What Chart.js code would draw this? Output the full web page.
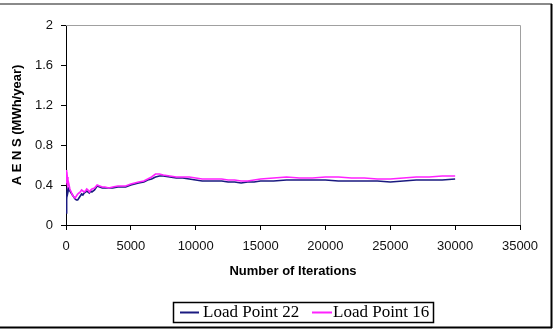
<!DOCTYPE html>
<html>
<head>
<meta charset="utf-8">
<script src="https://cdn.jsdelivr.net/npm/chart.js@4/dist/chart.umd.min.js"></script>
<style>
html,body{margin:0;padding:0;background:#fff;}
canvas{display:block;}
</style>
</head>
<body>
<canvas id="c" width="555" height="330"></canvas>
<script>
const iterations = [0,50,100,150,200,300,400,500,600,700,800,900,1000,1100,1200,1300,1400,1500,1600,1700,1800,1900,2000,2200,2400,2600,2800,3000,3300,3600,4000,4300,4600,5000,5300,5600,6000,6300,6600,6900,7200,7500,8000,8500,9000,9500,10000,10500,11000,11500,12000,12500,13000,13500,14000,14500,15000,16000,17000,18000,19000,20000,21000,22000,23000,24000,25000,26000,27000,28000,29000,30000];
const loadPoint22 = [0.12,0.25,0.38,0.33,0.36,0.34,0.32,0.30,0.28,0.26,0.25,0.25,0.27,0.29,0.31,0.30,0.32,0.33,0.34,0.33,0.32,0.34,0.33,0.35,0.39,0.38,0.37,0.37,0.37,0.37,0.38,0.38,0.38,0.40,0.41,0.42,0.43,0.45,0.46,0.48,0.49,0.49,0.48,0.47,0.47,0.46,0.45,0.44,0.44,0.44,0.44,0.43,0.43,0.42,0.43,0.43,0.44,0.44,0.45,0.45,0.45,0.45,0.44,0.44,0.44,0.44,0.43,0.44,0.45,0.45,0.45,0.46];
const loadPoint16 = [0.55,0.45,0.48,0.40,0.42,0.36,0.33,0.30,0.28,0.27,0.29,0.31,0.32,0.33,0.35,0.34,0.33,0.34,0.36,0.35,0.33,0.35,0.36,0.37,0.40,0.39,0.38,0.38,0.37,0.38,0.39,0.39,0.39,0.41,0.42,0.43,0.44,0.46,0.48,0.51,0.51,0.50,0.49,0.48,0.48,0.48,0.47,0.46,0.46,0.46,0.46,0.45,0.45,0.44,0.44,0.45,0.46,0.47,0.48,0.47,0.47,0.48,0.48,0.47,0.47,0.46,0.46,0.47,0.48,0.48,0.49,0.49];
const seriesNames = ['Load Point 22','Load Point 16'];
const seriesColors = ['#1a1a80','#ff22ff'];
const xTicks = [0,5000,10000,15000,20000,25000,30000,35000];
const yTicks = [0,0.4,0.8,1.2,1.6,2];

const toXY = (ys) => iterations.map((x,i)=>({x:x,y:ys[i]}));

const framePlugin = {
  id:'frame',
  afterDraw(chart){
    const ctx = chart.ctx, a = chart.chartArea;
    ctx.save();
    ctx.strokeStyle = '#a0a0a0'; ctx.lineWidth = 1;
    ctx.beginPath();
    ctx.moveTo(a.left, a.top+0.5); ctx.lineTo(a.right+0.5, a.top+0.5); ctx.lineTo(a.right+0.5, a.bottom);
    ctx.stroke();
    ctx.strokeStyle = '#8a8a8a'; ctx.lineWidth = 2;
    ctx.beginPath(); ctx.moveTo(0,4); ctx.lineTo(552,4); ctx.stroke();
    ctx.strokeStyle = '#000'; ctx.lineWidth = 2;
    ctx.beginPath(); ctx.moveTo(551.5,4); ctx.lineTo(551.5,328); ctx.stroke();
    ctx.beginPath(); ctx.moveTo(0,327.5); ctx.lineTo(552,327.5); ctx.stroke();
    const lx=173, ly=302, lw=260, lh=20;
    ctx.fillStyle='#fff'; ctx.fillRect(lx,ly,lw,lh);
    ctx.strokeStyle='#000'; ctx.lineWidth=1.5;
    ctx.strokeRect(lx+0.5,ly+0.5,lw,lh);
    ctx.font = '17px "Liberation Serif", "Times New Roman", serif';
    ctx.textBaseline='middle'; ctx.fillStyle='#000';
    const items = [{x0:180,x1:199,tx:203},{x0:312,x1:332,tx:333}];
    items.forEach((it,i)=>{
      ctx.strokeStyle = seriesColors[i]; ctx.lineWidth=2;
      ctx.beginPath(); ctx.moveTo(it.x0, ly+lh/2+0.5); ctx.lineTo(it.x1, ly+lh/2+0.5); ctx.stroke();
      ctx.fillText(seriesNames[i], it.tx, ly+lh/2+1);
    });
    ctx.restore();
  }
};

const tickFont = {family:'"Liberation Sans", Arial, sans-serif', size:13};
const titleFont = {family:'"Liberation Sans", Arial, sans-serif', size:13, weight:'bold'};

new Chart(document.getElementById('c'), {
  type:'line',
  data:{
    datasets:[
      {label:seriesNames[0], data:toXY(loadPoint22), borderColor:seriesColors[0], borderWidth:1.6, pointRadius:0, tension:0, fill:false, order:1},
      {label:seriesNames[1], data:toXY(loadPoint16), borderColor:seriesColors[1], borderWidth:1.6, pointRadius:0, tension:0, fill:false, order:0}
    ]
  },
  options:{
    responsive:false, animation:false, devicePixelRatio:1,
    layout:{padding:{top:25,left:10,right:35,bottom:51}},
    plugins:{legend:{display:false}, tooltip:{enabled:false}},
    scales:{
      x:{
        type:'linear', min:0, max:35000,
        afterBuildTicks(s){ s.ticks = xTicks.map(v=>({value:v})); },
        afterFit(s){ s.height = 54; },
        grid:{drawOnChartArea:false, drawTicks:true, tickLength:5, color:'#000'},
        border:{display:true, color:'#000', width:1},
        ticks:{color:'#111', font:tickFont, padding:9, maxRotation:0, autoSkip:false, callback:(v)=>String(v)},
        title:{display:true, text:'Number of Iterations', color:'#000', font:titleFont, padding:0}
      },
      y:{
        type:'linear', min:0, max:2,
        afterBuildTicks(s){ s.ticks = yTicks.map(v=>({value:v})); },
        afterFit(s){ s.width = 56; },
        grid:{drawOnChartArea:false, drawTicks:true, tickLength:5, color:'#000'},
        border:{display:true, color:'#000', width:1},
        ticks:{color:'#111', font:tickFont, padding:8, callback:(v)=>String(Math.round(v*10)/10)},
        title:{display:true, text:'A E N S (MWh/year)', color:'#000', font:titleFont, padding:0}
      }
    }
  },
  plugins:[framePlugin]
});
</script>
</body>
</html>
